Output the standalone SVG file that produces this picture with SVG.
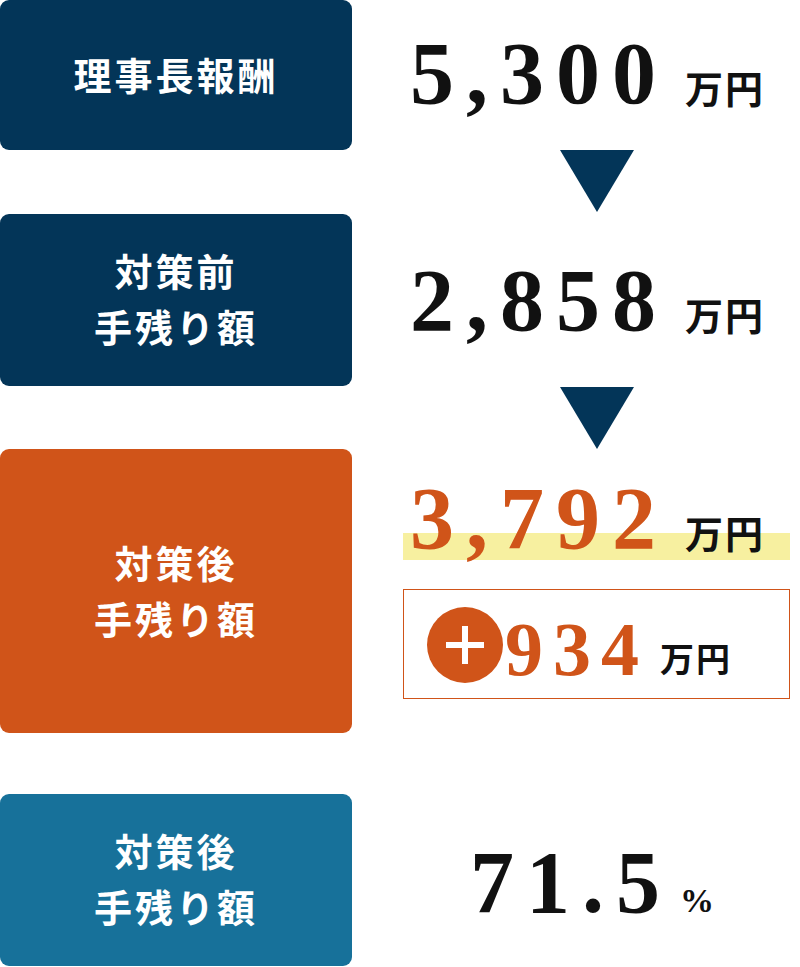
<svg xmlns="http://www.w3.org/2000/svg" width="800" height="967" viewBox="0 0 800 967">
<style>
.lb{font-family:"Noto Sans CJK JP",sans-serif;font-weight:bold;font-size:38px;fill:#fff;text-anchor:middle;letter-spacing:3px}
.num{font-family:"Liberation Serif",serif;font-weight:bold;font-size:88px;fill:#111;letter-spacing:12px}
.unit{font-family:"Noto Sans CJK JP",sans-serif;font-weight:bold;font-size:38px;fill:#111;letter-spacing:2px}
.o{fill:#d05419}
</style>
<rect width="800" height="967" fill="#fff"/>
<g id="n1"><rect x="0" y="0" width="352" height="150" rx="9" fill="#033558"/><text class="lb" x="176" y="90">理事長報酬</text></g>
<g id="v1"><text class="num" x="410" y="103">5,300</text><text class="unit" x="685" y="103">万円</text></g>
<g id="n2"><rect x="0" y="214" width="352" height="172" rx="9" fill="#033558"/><text class="lb" x="176" y="286">対策前</text><text class="lb" x="176" y="342">手残り額</text></g>
<g id="v2"><text class="num" x="410" y="330">2,858</text><text class="unit" x="685" y="330">万円</text></g>
<g id="n3"><rect x="0" y="449" width="352" height="284" rx="9" fill="#d05419"/><text class="lb" x="176" y="578">対策後</text><text class="lb" x="176" y="634">手残り額</text></g>
<g id="v3"><rect x="403" y="533" width="387" height="27" fill="#f7f0a0"/><text class="num o" x="410" y="548">3,792</text><text class="unit" x="685" y="548">万円</text></g>
<g id="v3b"><rect x="403.5" y="589.5" width="386" height="109" fill="none" stroke="#d05419"/><circle cx="465" cy="645" r="38" fill="#d05419"/><path d="M446 645H484M465 626V664" stroke="#fff" stroke-width="6"/><text class="num o" x="505" y="675" style="font-size:76px;letter-spacing:10px">934</text><text class="unit" x="660" y="672" style="font-size:34px">万円</text></g>
<g id="n4"><rect x="0" y="794" width="352" height="172" rx="9" fill="#17719a"/><text class="lb" x="176" y="866">対策後</text><text class="lb" x="176" y="922">手残り額</text></g>
<g id="v4"><text class="num" x="470" y="912">71.5</text><text class="unit" x="680" y="912" style="font-size:34px;font-family:'Liberation Serif',serif">%</text></g>
<g id="connectors" fill="#033558"><polygon points="560,150 634,150 597,212"/><polygon points="560,387 634,387 597,449"/></g>
</svg>
